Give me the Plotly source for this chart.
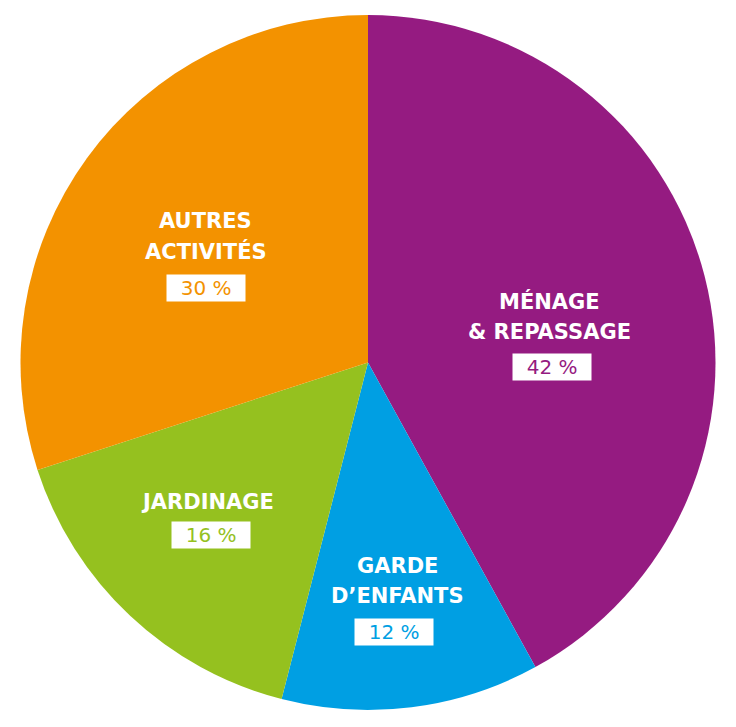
import plotly.graph_objects as go

labels = ["MÉNAGE<br>& REPASSAGE", "GARDE<br>D’ENFANTS", "JARDINAGE", "AUTRES<br>ACTIVITÉS"]
values = [42, 12, 16, 30]
pct_labels = ["42 %", "12 %", "16 %", "30 %"]
colors = ["#951B81", "#009FE3", "#95C11F", "#F39200"]

# label placement (pixel centers, page coords): first name line, percentage box
W, H = 736, 727
OFF = 8  # default page body margin
ML, MR, MT, MB = 20 - OFF, 20 + OFF, 15 - OFF, 17 + OFF
LINE_GAP = 30
name_px = [(549, 302), (397, 566), (207, 502), (206, 221)]
box_px = [(552, 367), (394, 632), (211, 535), (206, 288)]


def to_paper(px, py):
    px -= OFF
    py -= OFF
    return (px - ML) / (W - ML - MR), 1 - (py - MT) / (H - MT - MB)


fig = go.Figure(go.Pie(
    labels=labels,
    values=values,
    sort=False,
    direction="clockwise",
    rotation=0,
    marker=dict(colors=colors, line=dict(width=0)),
    textinfo="none",
    hoverinfo="label+percent",
    showlegend=False,
))

annotations = []
for i in range(len(labels)):
    for j, line in enumerate(labels[i].split("<br>")):
        nx, ny = to_paper(name_px[i][0], name_px[i][1] + j * LINE_GAP)
        annotations.append(dict(
            x=nx, y=ny, xref="paper", yref="paper", showarrow=False,
            text=line, align="center", xanchor="center", yanchor="middle",
            font=dict(family="DejaVu Sans", size=21, color="white", weight="bold"),
        ))
    bx, by = to_paper(*box_px[i])
    annotations.append(dict(
        x=bx, y=by, xref="paper", yref="paper", showarrow=False,
        text="\u00a0\u00a0" + pct_labels[i] + "\u00a0\u00a0",
        xanchor="center", yanchor="middle", bgcolor="white", borderpad=1,
        font=dict(family="DejaVu Sans", size=20, color=colors[i]),
    ))

fig.update_layout(
    width=W, height=H,
    margin=dict(l=ML, r=MR, t=MT, b=MB),
    paper_bgcolor="white",
    plot_bgcolor="white",
    annotations=annotations,
)

fig.write_html("out.html")
